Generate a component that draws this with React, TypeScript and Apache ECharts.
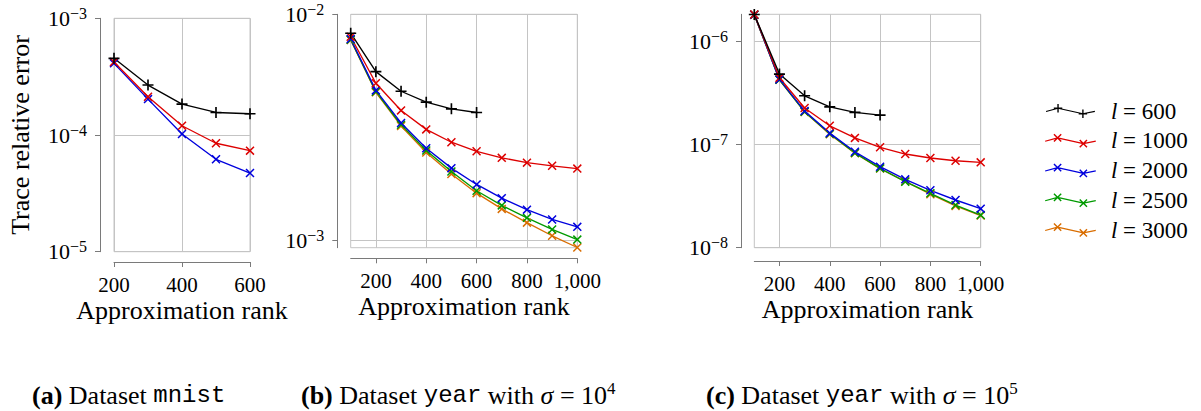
import React, { useEffect, useRef } from 'react';
import * as echarts from 'echarts';

// ---------- data ----------
const ranksA = [200, 300, 400, 500, 600];
const ranksBC = [100, 200, 300, 400, 500, 600, 700, 800, 900, 1000];

// (a) mnist
const mnist600 = [4.54e-4, 2.68e-4, 1.84e-4, 1.56e-4, 1.52e-4];
const mnist1000 = [4.22e-4, 2.13e-4, 1.2e-4, 8.5e-5, 7.34e-5];
const mnist2000 = [4.11e-4, 2.03e-4, 1.02e-4, 6.19e-5, 4.72e-5];

// (b) year, sigma = 1e4
const yearB600 = [8.25e-3, 5.58e-3, 4.57e-3, 4.09e-3, 3.82e-3, 3.68e-3];
const yearB1000 = [7.96e-3, 4.96e-3, 3.76e-3, 3.1e-3, 2.72e-3, 2.48e-3, 2.32e-3, 2.21e-3, 2.14e-3, 2.08e-3];
const yearB2000 = [7.78e-3, 4.61e-3, 3.31e-3, 2.56e-3, 2.09e-3, 1.77e-3, 1.54e-3, 1.37e-3, 1.24e-3, 1.15e-3];
const yearB2500 = [7.72e-3, 4.55e-3, 3.25e-3, 2.5e-3, 2.02e-3, 1.66e-3, 1.43e-3, 1.26e-3, 1.12e-3, 1.01e-3];
const yearB3000 = [7.7e-3, 4.52e-3, 3.21e-3, 2.45e-3, 1.97e-3, 1.62e-3, 1.38e-3, 1.2e-3, 1.05e-3, 9.32e-4];

// (c) year, sigma = 1e5
const yearC600 = [1.82e-6, 4.82e-7, 2.97e-7, 2.32e-7, 2.05e-7, 1.93e-7];
const yearC1000 = [1.82e-6, 4.44e-7, 2.26e-7, 1.52e-7, 1.16e-7, 9.4e-8, 8.09e-8, 7.4e-8, 6.97e-8, 6.72e-8];
const yearC2000 = [1.81e-6, 4.28e-7, 2.11e-7, 1.29e-7, 8.52e-8, 6.1e-8, 4.6e-8, 3.6e-8, 2.9e-8, 2.39e-8];
const yearC2500 = [1.81e-6, 4.25e-7, 2.08e-7, 1.27e-7, 8.3e-8, 5.88e-8, 4.36e-8, 3.37e-8, 2.59e-8, 2.07e-8];
const yearC3000 = [1.81e-6, 4.24e-7, 2.07e-7, 1.26e-7, 8.25e-8, 5.85e-8, 4.4e-8, 3.3e-8, 2.54e-8, 2.05e-8];

const seriesNames = ['l = 600', 'l = 1000', 'l = 2000', 'l = 2500', 'l = 3000'];
const xTicksA = [200, 400, 600];
const xTicksBC = [200, 400, 600, 800, 1000];
const yTicksA = [1e-5, 1e-4, 1e-3];
const yTicksB = [1e-3, 1e-2];
const yTicksC = [1e-8, 1e-7, 1e-6];

// ---------- styling ----------
const COLORS = ['#000000', '#dd0000', '#0000dd', '#009a00', '#d96d00'];
const SERIF = "'Liberation Serif', 'Times New Roman', serif";
const MONO = "'Liberation Mono', 'DejaVu Sans Mono', monospace";
const AXIS_COLOR = '#7a7a7a';
const GRID_COLOR = '#c4c4c4';

function f(n: number) {
  return n.toFixed(2);
}
function seg(ax: number, ay: number, bx: number, by: number, t: number) {
  const dx = bx - ax;
  const dy = by - ay;
  const L = Math.hypot(dx, dy);
  const nx = (-dy / L) * (t / 2);
  const ny = (dx / L) * (t / 2);
  return `M${f(ax + nx)},${f(ay + ny)}L${f(bx + nx)},${f(by + ny)}L${f(bx - nx)},${f(by - ny)}L${f(ax - nx)},${f(ay - ny)}Z`;
}
function plusPath(cx: number, cy: number, r: number, t: number) {
  return seg(cx - r, cy, cx + r, cy, t) + seg(cx, cy - r, cx, cy + r, t);
}
function crossPath(cx: number, cy: number, r: number, t: number) {
  return seg(cx - r, cy - r, cx + r, cy + r, t) + seg(cx - r, cy + r, cx + r, cy - r, t);
}
const PLUS_SYMBOL = 'path://' + plusPath(0, 0, 5, 1.5);
const CROSS_SYMBOL = 'path://' + crossPath(0, 0, 4, 1.5);

function legendIcon(isPlus: boolean) {
  const lw = 1.3;
  const mk = isPlus ? plusPath : crossPath;
  const r = isPlus ? 4.6 : 3.8;
  return (
    'path://' +
    seg(0, 7.5, 13, 4, lw) +
    seg(13, 4, 40, 10, lw) +
    seg(40, 10, 53, 7.5, lw) +
    mk(13, 4, r, 1.5) +
    mk(40, 10, r, 1.5)
  );
}

function powLabel(v: number) {
  const e = Math.round(Math.log10(v));
  return `{b|10}{s|−${-e}}`;
}
const powRich = {
  b: { fontFamily: SERIF, fontSize: 22, lineHeight: 26, color: '#000' },
  s: { fontFamily: SERIF, fontSize: 16, lineHeight: 14, verticalAlign: 'top', color: '#000' },
};

function xLabel(v: number) {
  return v.toLocaleString('en-US');
}

const grids = [
  { left: 114, top: 18.3, width: 136, height: 233.4 },
  { left: 350.7, top: 14.3, width: 226.6, height: 233.4 },
  { left: 754.3, top: 14.3, width: 226.4, height: 233.4 },
];
const yOffsets = [14, 13.4, 13.3];
const xOffsets = [10.3, 10.6, 13.3];

function makeX(idx: number, min: number, max: number, ticks: number[]) {
  return {
    type: 'value',
    gridIndex: idx,
    min,
    max,
    offset: xOffsets[idx],
    axisLine: { show: true, onZero: false, lineStyle: { color: AXIS_COLOR, width: 1 } },
    axisTick: { show: true, inside: false, length: 5, customValues: ticks, lineStyle: { color: AXIS_COLOR, width: 1 } },
    axisLabel: {
      customValues: ticks,
      formatter: xLabel,
      margin: 12,
      fontFamily: SERIF,
      fontSize: 21,
      color: '#000',
    },
    splitLine: { show: true, lineStyle: { color: GRID_COLOR, width: 1 } },
    name: 'Approximation rank',
    nameLocation: 'middle',
    nameGap: 35,
    nameMoveOverlap: false,
    nameTextStyle: { fontFamily: SERIF, fontSize: 26, color: '#000' },
  };
}

function makeY(idx: number, min: number, max: number, ticks: number[], withName: boolean) {
  return {
    type: 'log',
    logBase: 10,
    gridIndex: idx,
    min,
    max,
    offset: yOffsets[idx],
    axisLine: { show: true, lineStyle: { color: AXIS_COLOR, width: 1 } },
    axisTick: { show: true, inside: false, length: 5, customValues: ticks, lineStyle: { color: AXIS_COLOR, width: 1 } },
    minorTick: { show: false },
    minorSplitLine: { show: false },
    axisLabel: {
      customValues: ticks,
      formatter: powLabel,
      margin: 13,
      rich: powRich,
    },
    splitLine: { show: true, lineStyle: { color: GRID_COLOR, width: 1 } },
    name: withName ? 'Trace relative error' : '',
    nameLocation: 'middle',
    nameGap: 67,
    nameMoveOverlap: false,
    nameTextStyle: { fontFamily: SERIF, fontSize: 26, color: '#000' },
  };
}

function line(name: string, idx: number, xs: number[], ys: number[], colorIdx: number) {
  const color = COLORS[colorIdx];
  const isPlus = colorIdx === 0;
  return {
    type: 'line',
    name,
    xAxisIndex: idx,
    yAxisIndex: idx,
    data: ys.map((y, i) => [xs[i], y]),
    symbol: isPlus ? PLUS_SYMBOL : CROSS_SYMBOL,
    symbolSize: isPlus ? 11 : 9,
    showSymbol: true,
    clip: false,
    silent: true,
    lineStyle: { color, width: 1.35 },
    itemStyle: { color, borderWidth: 0 },
    emphasis: { disabled: true },
  };
}

const capRich = {
  b: { fontFamily: SERIF, fontSize: 26, fontWeight: 'bold', lineHeight: 30, color: '#000' },
  m: { fontFamily: MONO, fontSize: 24, lineHeight: 30, color: '#000' },
  i: { fontFamily: SERIF, fontSize: 26, fontStyle: 'italic', lineHeight: 30, color: '#000' },
  sup: { fontFamily: SERIF, fontSize: 17, lineHeight: 15, verticalAlign: 'top', color: '#000' },
};
const capText = { fontFamily: SERIF, fontSize: 26, fontWeight: 'normal', lineHeight: 30, color: '#000', rich: capRich };

export default function App() {
  const ref = useRef<HTMLDivElement>(null);
  useEffect(() => {
    if (!ref.current) return;
    const chart = echarts.init(ref.current, null, { renderer: 'svg' });
    const option: any = {
      animation: false,
      backgroundColor: '#ffffff',
      grid: grids.map((g) => ({
        ...g,
        show: true,
        borderColor: GRID_COLOR,
        borderWidth: 1,
        backgroundColor: 'transparent',
        containLabel: false,
        outerBoundsMode: 'none',
      })),
      xAxis: [makeX(0, 200, 600, xTicksA), makeX(1, 100, 1000, xTicksBC), makeX(2, 100, 1000, xTicksBC)],
      yAxis: [
        makeY(0, 1e-5, 1e-3, yTicksA, true),
        makeY(1, 9.3e-4, 1e-2, yTicksB, false),
        makeY(2, 1e-8, 1.83e-6, yTicksC, false),
      ],
      legend: {
        show: true,
        orient: 'vertical',
        left: 1040,
        top: 94,
        itemWidth: 53,
        itemHeight: 14,
        itemGap: 5.75,
        selectedMode: false,
        itemStyle: { borderWidth: 0 },
        data: seriesNames.map((n, i) => ({ name: n, icon: legendIcon(i === 0) })),
        formatter: (name: string) => '{i|l}' + name.slice(1),
        textStyle: {
          fontFamily: SERIF,
          fontSize: 23,
          lineHeight: 24,
          color: '#000',
          rich: {
            i: { fontFamily: SERIF, fontSize: 23, fontStyle: 'italic', lineHeight: 24, padding: [0, 0, 0, 9], color: '#000' },
          },
        },
      },
      title: [
        { left: 32, top: 380, padding: 0, text: '{b|(a)} Dataset {m|mnist}', textStyle: capText },
        { left: 301, top: 380, padding: 0, text: '{b|(b)} Dataset {m|year} with {i|σ} = 10{sup|4}', textStyle: capText },
        { left: 706, top: 380, padding: 0, text: '{b|(c)} Dataset {m|year} with {i|σ} = 10{sup|5}', textStyle: capText },
      ],
      series: [
        // (a) — drawn bottom to top
        line(seriesNames[2], 0, ranksA, mnist2000, 2),
        line(seriesNames[1], 0, ranksA, mnist1000, 1),
        line(seriesNames[0], 0, ranksA, mnist600, 0),
        // (b)
        line(seriesNames[4], 1, ranksBC, yearB3000, 4),
        line(seriesNames[3], 1, ranksBC, yearB2500, 3),
        line(seriesNames[2], 1, ranksBC, yearB2000, 2),
        line(seriesNames[1], 1, ranksBC, yearB1000, 1),
        line(seriesNames[0], 1, ranksBC, yearB600, 0),
        // (c)
        line(seriesNames[4], 2, ranksBC, yearC3000, 4),
        line(seriesNames[3], 2, ranksBC, yearC2500, 3),
        line(seriesNames[2], 2, ranksBC, yearC2000, 2),
        line(seriesNames[1], 2, ranksBC, yearC1000, 1),
        line(seriesNames[0], 2, ranksBC, yearC600, 0),
      ],
    };
    chart.setOption(option);
    return () => {
      chart.dispose();
    };
  }, []);
  return (
    <div
      ref={ref}
      style={{ position: 'absolute', left: 0, top: 0, width: 1201, height: 411 }}
    />
  );
}
